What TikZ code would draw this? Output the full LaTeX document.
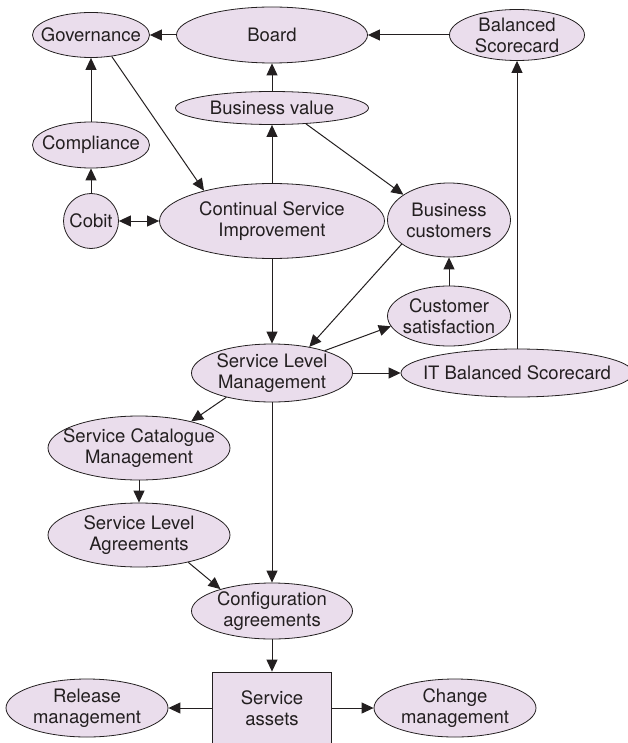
\documentclass[tikz,border=0pt]{standalone}
\usepackage{fontspec}
\setmainfont{TeX Gyre Heros}
\usetikzlibrary{shapes.geometric,arrows.meta}

\begin{document}
\begin{tikzpicture}[x=1pt,y=-1pt,
  bubble/.style={ellipse,draw=edge,fill=lilac,line width=0.8pt,inner sep=0pt},
  tag/.style={align=center,text=ink,inner sep=0pt,font=\fontsize{18.5}{21}\selectfont},
  flow/.style={draw=edge,line width=1pt,-{Triangle[length=12pt,width=11pt]}},
  twoway/.style={draw=edge,line width=1pt,{Triangle[length=12pt,width=11pt]}-{Triangle[length=12pt,width=11pt]}}]
  \definecolor{lilac}{HTML}{EADDEC}
  \definecolor{edge}{HTML}{231F20}
  \definecolor{ink}{HTML}{231F20}
  \useasboundingbox (0,0) rectangle (627,743);

  % top row
  \node [bubble,minimum width=117pt,minimum height=45pt,label={[tag]center:Governance}] (gov) at (91,35) {};
  \node [bubble,minimum width=191pt,minimum height=56pt,label={[tag]center:Board}] (board) at (272,35) {};
  \node [bubble,minimum width=135pt,minimum height=51pt,label={[tag]center:{Balanced\\Scorecard}}] (bsc) at (517,35) {};
  \node [bubble,minimum width=193pt,minimum height=33pt,label={[tag]center:Business value}] (bval) at (272,108) {};
  \node [bubble,minimum width=117pt,minimum height=46pt,label={[tag]center:Compliance}] (compl) at (91,145) {};
  \node [bubble,circle,minimum size=55pt,label={[tag]center:Cobit}] (cobit) at (91,221) {};
  \node [bubble,minimum width=225pt,minimum height=75pt,label={[tag]center:{Continual Service\\Improvement}}] (csi) at (272,221) {};
  \node [bubble,minimum width=123pt,minimum height=74pt,label={[tag]center:{Business\\customers}}] (bcust) at (449,220) {};
  \node [bubble,minimum width=123pt,minimum height=60pt,label={[tag]center:{Customer\\satisfaction}}] (csat) at (449,316) {};

  % middle
  \node [bubble,minimum width=161pt,minimum height=58pt,label={[tag]center:{Service Level\\Management}}] (slm) at (272,373) {};
  \node [bubble,minimum width=232pt,minimum height=48pt,label={[tag]center:IT Balanced Scorecard}] (itbsc) at (517,373) {};
  \node [bubble,minimum width=182pt,minimum height=64pt,label={[tag]center:{Service Catalogue\\Management}}] (scm) at (139,448) {};
  \node [bubble,minimum width=182pt,minimum height=64pt,label={[tag]center:{Service Level\\Agreements}}] (sla) at (139,535) {};
  \node [bubble,minimum width=161pt,minimum height=56pt,label={[tag]center:{Configuration\\agreements}}] (conf) at (272,611) {};

  % bottom row
  \node [tag,draw=edge,fill=lilac,line width=0.8pt,minimum width=119pt,minimum height=72pt] (assets) at (272,708) {Service\\assets};
  \node [bubble,minimum width=162pt,minimum height=58pt,label={[tag]center:{Release\\management}}] (rel) at (87,708) {};
  \node [bubble,minimum width=162pt,minimum height=58pt,label={[tag]center:{Change\\management}}] (chg) at (455,708) {};

  \draw [flow] (board) -- (gov);
  \draw [flow] (bsc) -- (board);
  \draw [flow] (bval) -- (board);
  \draw [flow] (csi) -- (bval);
  \draw [flow] (compl) -- (gov);
  \draw [flow] (cobit) -- (compl);
  \draw [twoway] (cobit) -- (csi);
  \draw [flow] (gov.-46) -- (csi.156);
  \draw [flow] (bval.-25) -- (bcust.151);
  \draw [flow] (bcust.207) -- (slm.35);
  \draw [flow] (slm.23) -- (csat.190);
  \draw [flow] (csat) -- (bcust);
  \draw [flow] (slm) -- (itbsc);
  \draw [flow] (itbsc) -- (bsc);
  \draw [flow] (csi) -- (slm);
  \draw [flow] (slm.208) -- (scm.27);
  \draw [flow] (scm) -- (sla);
  \draw [flow] (sla.-29) -- (conf.157);
  \draw [flow] (slm) -- (conf);
  \draw [flow] (conf) -- (assets);
  \draw [flow] (assets) -- (rel);
  \draw [flow] (assets) -- (chg);
\end{tikzpicture}
\end{document}
